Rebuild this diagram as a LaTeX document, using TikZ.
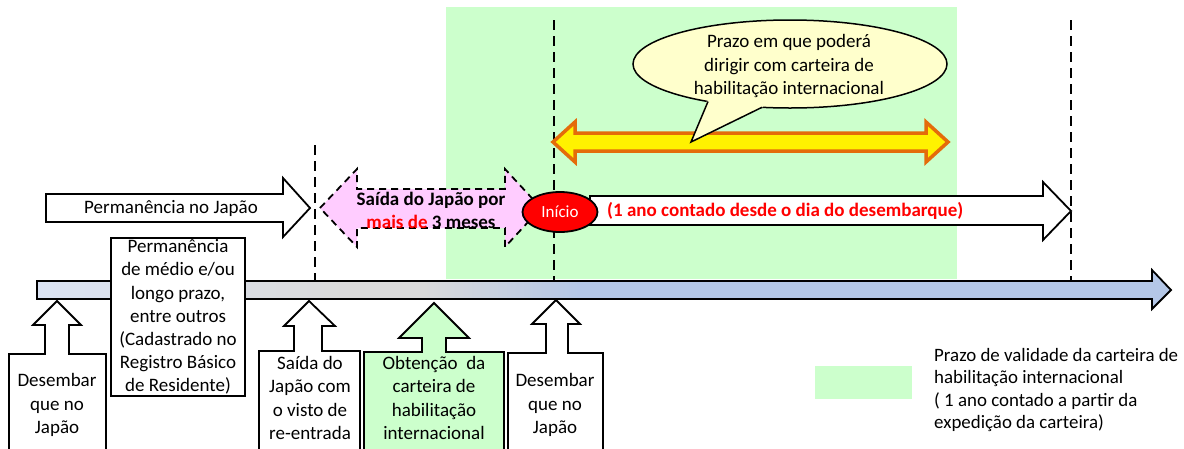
\documentclass[tikz,border=0pt]{standalone}
\usepackage{fontspec}
\setmainfont{Carlito}
\usetikzlibrary{shapes.geometric}
\definecolor{bggreen}{HTML}{CCFFCC}
\definecolor{pinkfill}{HTML}{FFCCFF}
\definecolor{bubble}{HTML}{FFFFCC}
\definecolor{orangeedge}{HTML}{E46C0A}
\definecolor{tlleft}{HTML}{DAE3F3}
\definecolor{tlmid}{HTML}{D9D9D9}
\definecolor{tlright}{HTML}{B4C7E7}
\definecolor{redtxt}{HTML}{FF0000}
\pgfdeclarehorizontalshading{timeline}{100bp}{color(0bp)=(tlleft); color(25bp)=(tlleft); color(39bp)=(tlmid); color(42bp)=(tlmid); color(49bp)=(tlright); color(75bp)=(tlright); color(100bp)=(tlright)}
\begin{document}
\begin{tikzpicture}[x=1pt,y=-1pt,
  outl/.style={draw=black, line width=1.8pt, line join=miter},
  vdash/.style={draw=black, line width=2.6pt, dash pattern=on 10pt off 6pt},
  txt/.style={font=\fontsize{19}{23.2}\selectfont, align=center, inner sep=0pt},
  boldtxt/.style={txt, font=\fontsize{19}{23.2}\selectfont\bfseries},
  legtxt/.style={font=\fontsize{18.9}{22.3}\selectfont, align=left, inner sep=0pt}]
\useasboundingbox (0,0) rectangle (1184,448);
% green validity period
\fill[bggreen] (446,7) rectangle (957,279);
% dashed markers
\coordinate (d1t) at (315,145); \coordinate (d1b) at (315,281);
\coordinate (d2t) at (554,20);  \coordinate (d2b) at (554,281);
\coordinate (d3t) at (1071,20); \coordinate (d3b) at (1071,281);
\draw[vdash] (d1t) -- (d1b);
\draw[vdash] (d2t) -- (d2b);
\draw[vdash] (d3t) -- (d3b);
% timeline
\path[outl, shading=timeline]
  (37,281) -- (1152,281) -- (1152,270) -- (1171,290) -- (1152,309) -- (1152,299) -- (37,299) -- cycle;
% Permanencia no Japao arrow
\path[outl, fill=white] (46,194) -- (283,194) -- (283,178) -- (310,208) -- (283,237) -- (283,222) -- (46,222) -- cycle;
\node[txt] (perm) at (171,208) {Permanência no Japão};
% pink double arrow
\path[draw=black, line width=1.8pt, dash pattern=on 7pt off 5pt, fill=pinkfill]
  (320,208) -- (357,169) -- (357,189) -- (505,189) -- (505,169) -- (541,208) -- (505,247) -- (505,228) -- (357,228) -- (357,247) -- cycle;
\node[boldtxt] (saida) at (431,210) {Saída do Japão por\\\textcolor{redtxt}{mais de} 3 meses};
% long arrow
\path[outl, fill=white] (590,196) -- (1043,196) -- (1043,182) -- (1071,211) -- (1043,240) -- (1043,225) -- (590,225) -- cycle;
\node[boldtxt, anchor=west, text=redtxt] (ano) at (607,211) {(1 ano contado desde o dia do desembarque)};
% inicio
\node[ellipse, draw=black, line width=1.8pt, fill=red, minimum width=75pt, minimum height=40pt, inner sep=0pt,
  text=white, font=\fontsize{17}{19}\selectfont] (inicio) at (560,212) {Início};
% yellow double arrow
\path[draw=orangeedge, line width=3.5pt, line join=miter, fill=yellow]
  (553,142) -- (575,122) -- (575,133) -- (926,133) -- (926,122) -- (948,142) -- (926,162) -- (926,151) -- (575,151) -- (575,162) -- cycle;
% speech bubble
\coordinate (tip) at (691,142);
\coordinate (bl) at (708,101.5);
\coordinate (br) at (762,107.3);
\path[draw=black, line width=1.5pt, fill=bubble] (790,64) ellipse [x radius=157, y radius=44];
\fill[bubble] (tip) -- (707,101) -- (712,96) -- (760,102) -- (763,107) -- cycle;
\draw[black, line width=1.5pt, line join=miter] (bl) -- (tip) -- (br);
\node[txt] (bubtxt) at (789,66) {Prazo em que poderá\\dirigir com carteira de\\habilitação internacional};
% Permanencia box
\path[outl, fill=white] (111,238) rectangle (245,396);
\node[txt] (permbox) at (178,317) {Permanência\\de médio e/ou\\longo prazo,\\entre outros\\(Cadastrado no\\Registro Básico\\de Residente)};
% callouts
\path[outl, fill=white] (9,452) -- (9,354) -- (45,354) -- (45,325) -- (33,325) -- (57,301) -- (81,325) -- (69,325) -- (69,354) -- (106,354) -- (106,452);
\node[txt] (c1) at (57,405) {Desembar\\que no\\Japão};
\path[outl, fill=white] (259,452) -- (259,351) -- (294,351) -- (294,326) -- (284,326) -- (309,301) -- (335,326) -- (322,326) -- (322,351) -- (360,351) -- (360,452);
\node[txt] (c2) at (310,398) {Saída do\\Japão com\\o visto de\\re-entrada};
\path[outl, fill=bggreen] (364,452) -- (364,352) -- (422,352) -- (422,338) -- (399,338) -- (434,303) -- (469,338) -- (446,338) -- (446,352) -- (504,352) -- (504,452);
\node[txt] (c3) at (434,398) {Obtenção\ \ da\\carteira de\\habilitação\\internacional};
\path[outl, fill=white] (508,452) -- (508,353) -- (546,353) -- (546,324) -- (532,324) -- (556,300) -- (580,324) -- (568,324) -- (568,353) -- (603,353) -- (603,452);
\node[txt] (c4) at (555,405) {Desembar\\que no\\Japão};
% legend
\fill[bggreen] (815,366) rectangle (912,399);
\node[legtxt, anchor=west] (leg) at (934,390) {Prazo de validade da carteira de\\habilitação internacional\\( 1 ano contado a partir da\\expedição da carteira)};
\end{tikzpicture}
\end{document}
